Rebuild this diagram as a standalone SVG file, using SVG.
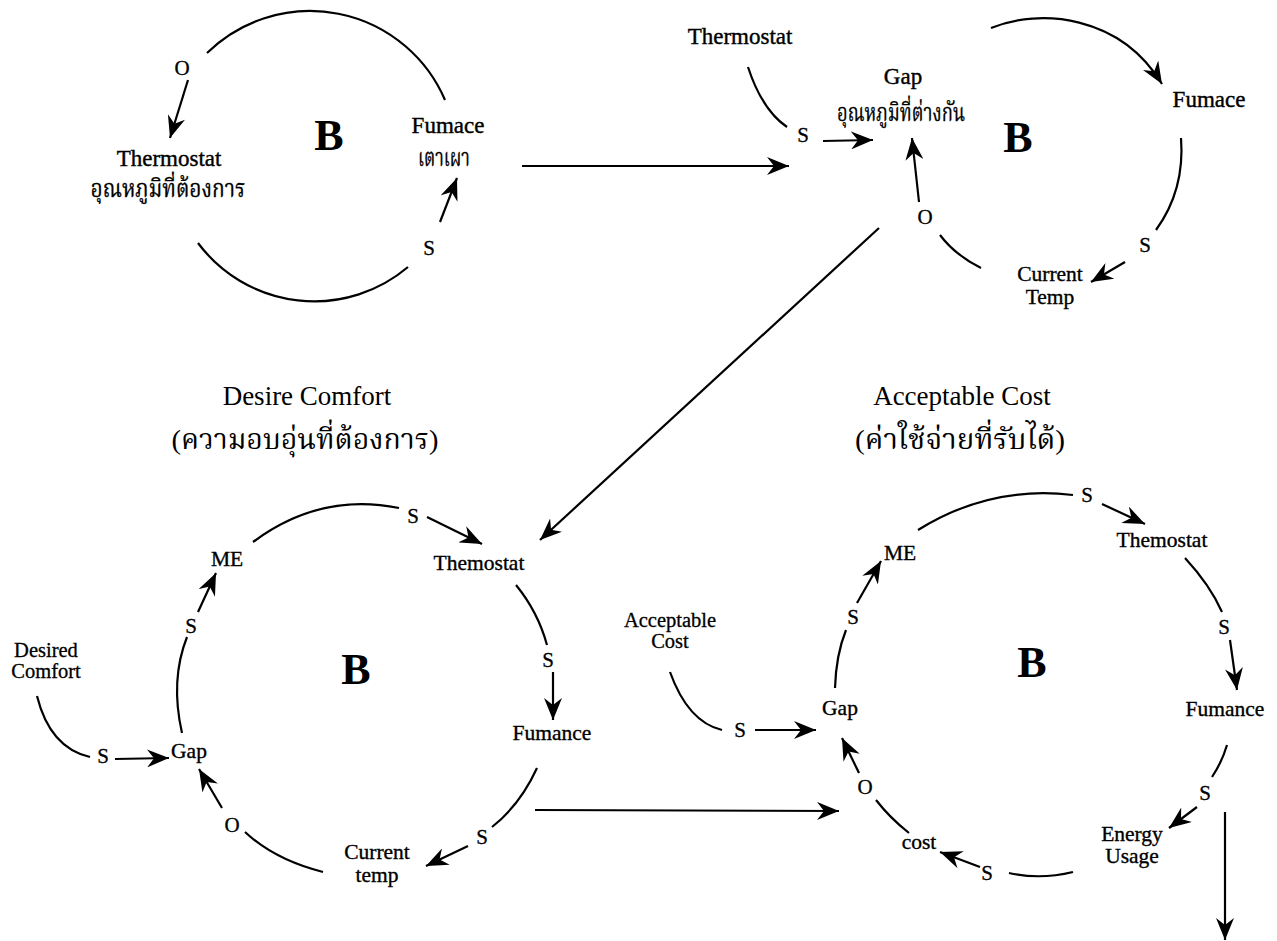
<svg xmlns="http://www.w3.org/2000/svg" width="1277" height="941" viewBox="0 0 1277 941">
  <defs>
    <marker id="ah" markerUnits="userSpaceOnUse" markerWidth="24" markerHeight="18" refX="22" refY="9" orient="auto">
      <path d="M0,0 L22,9 L0,18 L7,9 Z" fill="#000"/>
    </marker>
    <style>
      text { font-family: "Liberation Serif", "Norasi", "Noto Serif Thai", "Noto Sans Thai", "Loma", "Garuda", "DejaVu Sans", serif; fill: #000; text-anchor: middle; }
      .lt { font-size: 23px; stroke: #000; stroke-width: 0.4; }
      .lb { font-size: 21.5px; stroke: #000; stroke-width: 0.35; }
      .sm { font-size: 20.5px; stroke: #000; stroke-width: 0.3; }
      .pol { font-size: 21px; stroke: #000; stroke-width: 0.3; }
      .big { font-size: 44px; font-weight: bold; }
      .ttl { font-size: 27px; }
      .th { font-size: 24px; stroke: #000; stroke-width: 0.3; }
      .tht { font-size: 28px; }
      .ln { fill: none; stroke: #000; stroke-width: 2.2; }
      .ar { fill: none; stroke: #000; stroke-width: 2.2; marker-end: url(#ah); }
    </style>
  </defs>
  <rect width="1277" height="941" fill="#fff"/>

  <!-- connectors -->
  <g id="connectors">
    <!-- loop 1: thermostat / furnace -->
    <path class="ln" d="M207,53 A147,147 0 0 1 445,100"/>
    <path class="ln" d="M198,243 A145,145 0 0 0 408,267"/>
    <path class="ar" d="M188,80 L170,138"/>
    <path class="ar" d="M440,222 L457,178"/>

    <!-- loop 1 to loop 2 -->
    <path class="ar" d="M522,166 L789,166"/>

    <!-- loop 2: gap / furnace / current temp -->
    <path class="ln" d="M748,67 Q762,110 787,127"/>
    <path class="ar" d="M823,141 L873,140"/>
    <path class="ar" d="M919,202 L912,138"/>
    <path class="ln" d="M940,235 Q955,255 981,268"/>
    <path class="ar" d="M1125,262 L1091,282"/>
    <path class="ln" d="M1181,138 Q1185,190 1156,230"/>
    <path class="ar" d="M991,28 C1040,8 1120,15 1162,84"/>

    <!-- loop 2 to loop 3 -->
    <path class="ar" d="M879,228 L540,540"/>

    <!-- loop 3: desired comfort -->
    <path class="ln" d="M253,542 Q320,492 399,508"/>
    <path class="ar" d="M427,517 L482,544"/>
    <path class="ln" d="M516,585 Q538,612 547,645"/>
    <path class="ar" d="M553,672 L553,720"/>
    <path class="ln" d="M537,768 Q520,805 492,827"/>
    <path class="ar" d="M468,846 L426,866"/>
    <path class="ln" d="M323,872 Q275,860 245,832"/>
    <path class="ar" d="M222,808 L199,769"/>
    <path class="ln" d="M182,733 Q170,680 187,637"/>
    <path class="ar" d="M198,612 L216,573"/>
    <path class="ln" d="M37,696 Q50,748 90,757"/>
    <path class="ar" d="M115,759 L169,758"/>

    <!-- loop 3 to loop 4 -->
    <path class="ar" d="M535,810 L839,811"/>

    <!-- loop 4: acceptable cost -->
    <path class="ln" d="M670,672 Q688,722 722,730"/>
    <path class="ar" d="M755,730 L816,730"/>
    <path class="ln" d="M835,688 Q836,655 846,630"/>
    <path class="ar" d="M857,603 L881,561"/>
    <path class="ln" d="M918,530 Q990,485 1073,495"/>
    <path class="ar" d="M1102,504 L1145,524"/>
    <path class="ln" d="M1185,558 Q1210,585 1222,612"/>
    <path class="ar" d="M1230,640 L1237,690"/>
    <path class="ln" d="M1227,745 Q1222,762 1212,777"/>
    <path class="ar" d="M1197,807 L1169,828"/>
    <path class="ln" d="M1073,872 Q1040,880 1009,873"/>
    <path class="ar" d="M980,867 L940,852"/>
    <path class="ln" d="M909,833 Q890,818 876,800"/>
    <path class="ar" d="M859,773 L842,738"/>
    <path class="ar" d="M1225,812 L1225,940"/>
  </g>

  <!-- loop 1 -->
  <g id="loop1-thermostat">
    <text class="lt" x="169" y="166">Thermostat</text>
    <text class="th" x="168" y="197" textLength="155" lengthAdjust="spacingAndGlyphs">อุณหภูมิที่ต้องการ</text>
  </g>
  <g id="loop1-furnace">
    <text class="lt" x="448" y="133">Fumace</text>
    <text class="th" x="444" y="166" textLength="52" lengthAdjust="spacingAndGlyphs">เตาเผา</text>
  </g>
  <g id="loop1-marks">
    <text class="big" x="329" y="150">B</text>
    <text class="pol" x="182" y="75">O</text>
    <text class="pol" x="429" y="255">S</text>
  </g>

  <!-- loop 2 -->
  <g id="loop2-thermostat">
    <text class="lt" x="740" y="44">Thermostat</text>
  </g>
  <g id="loop2-gap">
    <text class="lt" x="903" y="84">Gap</text>
    <text class="th" x="901" y="121" textLength="128" lengthAdjust="spacingAndGlyphs">อุณหภูมิที่ต่างกัน</text>
  </g>
  <g id="loop2-furnace">
    <text class="lt" x="1209" y="107">Fumace</text>
  </g>
  <g id="loop2-current-temp">
    <text class="lb" x="1050" y="281">Current</text>
    <text class="lb" x="1050" y="304">Temp</text>
  </g>
  <g id="loop2-marks">
    <text class="big" x="1018" y="152">B</text>
    <text class="pol" x="803" y="142">S</text>
    <text class="pol" x="925" y="224">O</text>
    <text class="pol" x="1145" y="252">S</text>
  </g>

  <!-- loop 3 -->
  <g id="loop3-title">
    <text class="ttl" x="307" y="405">Desire Comfort</text>
    <text class="tht" x="305" y="449" textLength="267" lengthAdjust="spacingAndGlyphs">(ความอบอุ่นที่ต้องการ)</text>
  </g>
  <g id="loop3-me"><text class="lb" x="227" y="566">ME</text></g>
  <g id="loop3-thermostat"><text class="lb" x="479" y="570">Themostat</text></g>
  <g id="loop3-furnace"><text class="lb" x="552" y="740">Fumance</text></g>
  <g id="loop3-current-temp">
    <text class="lb" x="377" y="859">Current</text>
    <text class="lb" x="377" y="882">temp</text>
  </g>
  <g id="loop3-gap"><text class="lb" x="189" y="758">Gap</text></g>
  <g id="loop3-desired-comfort">
    <text class="sm" x="46" y="657">Desired</text>
    <text class="sm" x="46" y="678">Comfort</text>
  </g>
  <g id="loop3-marks">
    <text class="big" x="356" y="684">B</text>
    <text class="pol" x="413" y="523">S</text>
    <text class="pol" x="548" y="667">S</text>
    <text class="pol" x="482" y="844">S</text>
    <text class="pol" x="232" y="832">O</text>
    <text class="pol" x="191" y="633">S</text>
    <text class="pol" x="103" y="763">S</text>
  </g>

  <!-- loop 4 -->
  <g id="loop4-title">
    <text class="ttl" x="962" y="405">Acceptable Cost</text>
    <text class="tht" x="960" y="449" textLength="210" lengthAdjust="spacingAndGlyphs">(ค่าใช้จ่ายที่รับได้)</text>
  </g>
  <g id="loop4-acceptable-cost">
    <text class="sm" x="670" y="627">Acceptable</text>
    <text class="sm" x="670" y="648">Cost</text>
  </g>
  <g id="loop4-gap"><text class="lb" x="840" y="715">Gap</text></g>
  <g id="loop4-me"><text class="lb" x="900" y="560">ME</text></g>
  <g id="loop4-thermostat"><text class="lb" x="1162" y="547">Themostat</text></g>
  <g id="loop4-furnace"><text class="lb" x="1225" y="716">Fumance</text></g>
  <g id="loop4-energy-usage">
    <text class="lb" x="1132" y="841">Energy</text>
    <text class="lb" x="1132" y="863">Usage</text>
  </g>
  <g id="loop4-cost"><text class="lb" x="919" y="849">cost</text></g>
  <g id="loop4-marks">
    <text class="big" x="1032" y="677">B</text>
    <text class="pol" x="740" y="737">S</text>
    <text class="pol" x="853" y="624">S</text>
    <text class="pol" x="1087" y="502">S</text>
    <text class="pol" x="1224" y="634">S</text>
    <text class="pol" x="1205" y="800">S</text>
    <text class="pol" x="987" y="880">S</text>
    <text class="pol" x="865" y="794">O</text>
  </g>
</svg>
